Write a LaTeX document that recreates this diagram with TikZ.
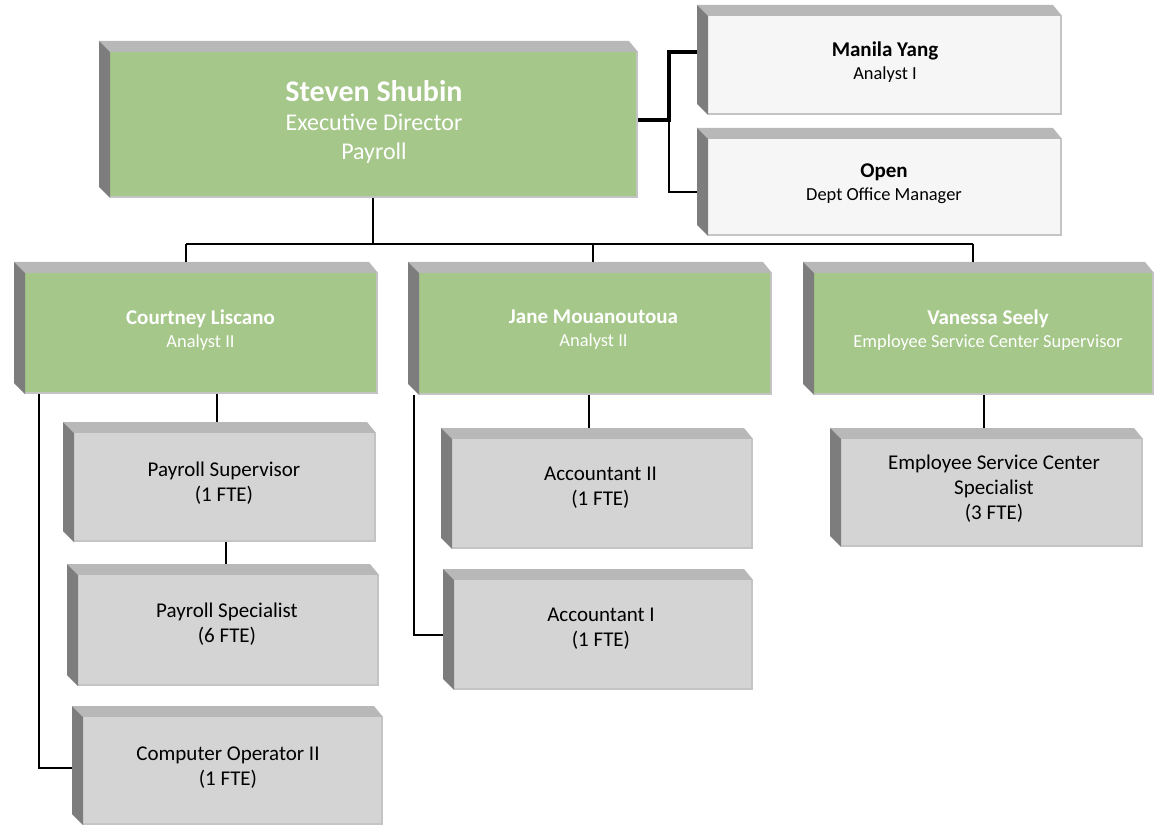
\documentclass[tikz,border=0pt]{standalone}
\usepackage{fontspec}
\setmainfont{Carlito}
\usetikzlibrary{fit}
\definecolor{greenface}{RGB}{165,199,137}
\definecolor{grayface}{RGB}{212,212,212}
\definecolor{whiteface}{RGB}{246,246,246}
\definecolor{topbev}{RGB}{184,184,184}
\definecolor{leftbev}{RGB}{125,125,125}
\definecolor{edgebev}{RGB}{196,196,196}
\newcommand\orgbox[6]{%
  \fill[topbev] (#2,#3) -- (#4-9,#3) -- (#4,#3+11) -- (#2+11,#3+11) -- cycle;
  \fill[#6] (#2+11,#3+11) rectangle (#4,#5);
  \draw[edgebev,line width=2pt] (#2+11,#5-1) -- (#4-1,#5-1) -- (#4-1,#3+11);
  \fill[leftbev] (#2,#3) -- (#2+11,#3+11) -- (#2+11,#5) -- (#2,#5-11) -- cycle;
  \node[fit={(#2,#3) (#4,#5)}, inner sep=0pt] (#1) {};
}
\tikzset{
  txt/.style={align=center, inner sep=0pt},
  wtxt/.style={txt, text=white},
  subfont/.style={font=\fontsize{18.4}{23}\selectfont},
  bigsub/.style={font=\fontsize{24}{29}\selectfont},
  lowfont/.style={font=\fontsize{21}{25}\selectfont},
  conn/.style={line width=2pt, black},
  connthick/.style={line width=3.2pt, black},
}
\newcommand\ttl[1]{{\fontsize{21}{23}\selectfont\bfseries #1}}
\begin{document}
\begin{tikzpicture}[x=1pt,y=-1pt]
\useasboundingbox (0,0) rectangle (1156,826);
\fill[white] (0,0) rectangle (1156,826);
% boxes
\orgbox{steven}{99}{41}{638}{198}{greenface}
\orgbox{manila}{697}{5}{1062}{115}{whiteface}
\orgbox{open}{697}{128}{1062}{236}{whiteface}
\orgbox{courtney}{14}{262}{378}{394}{greenface}
\orgbox{jane}{408}{262}{772}{395}{greenface}
\orgbox{vanessa}{803}{262}{1154}{395}{greenface}
\orgbox{psup}{63}{422}{376}{542}{grayface}
\orgbox{pspec}{67}{564}{379}{686}{grayface}
\orgbox{compop}{72}{706}{383}{825}{grayface}
\orgbox{acc2}{441}{428}{753}{549}{grayface}
\orgbox{acc1}{443}{569}{753}{690}{grayface}
\orgbox{esc}{830}{428}{1143}{547}{grayface}
% texts
\node[wtxt,bigsub] (stevenT) at (374,121.5) {{\fontsize{30}{29}\selectfont\bfseries Steven Shubin}\\Executive Director\\Payroll};
\node[txt,subfont] (manilaT) at (885,62) {\ttl{Manila Yang}\\Analyst I};
\node[txt,subfont] (openT) at (884,184) {\ttl{Open}\\Dept Office Manager};
\node[wtxt,subfont] (courtneyT) at (200.5,330) {\ttl{Courtney Liscano}\\Analyst II};
\node[wtxt,subfont] (janeT) at (593.5,330) {\ttl{Jane Mouanoutoua}\\Analyst II};
\node[wtxt,subfont] (vanessaT) at (988,330) {\ttl{Vanessa Seely}\\Employee Service Center Supervisor};
\node[txt,lowfont] (psupT) at (224,483) {Payroll Supervisor\\(1 FTE)};
\node[txt,lowfont] (pspecT) at (227,624.5) {Payroll Specialist\\(6 FTE)};
\node[txt,lowfont] (compopT) at (228,767.5) {Computer Operator II\\(1 FTE)};
\node[txt,lowfont] (acc2T) at (600.5,488) {Accountant II\\(1 FTE)};
\node[txt,lowfont] (acc1T) at (601,629) {Accountant I\\(1 FTE)};
\node[txt,lowfont] (escT) at (994,489) {Employee Service Center\\Specialist\\(3 FTE)};
% connectors: right side
\coordinate (jR) at (669,120);
\coordinate (jM) at (669,52);
\coordinate (jO) at (669,192);
\draw[connthick] (steven.east |- jR) -- (jR) -- (jM) -- (manila.west |- jM);
\draw[conn] (jR) -- (jO) -- (open.west |- jO);
% bus
\coordinate (jS) at (373,244);
\coordinate (bC) at (186,244);
\coordinate (bJ) at (593,244);
\coordinate (bV) at (973,244);
\draw[conn] (steven.south -| jS) -- (jS);
\draw[conn] (bC) -- (bV);
\draw[conn] (bC) -- (bC |- courtney.north);
\draw[conn] (bJ) -- (bJ |- jane.north);
\draw[conn] (bV) -- (bV |- vanessa.north);
% Courtney column
\coordinate (xCS) at (217,400);
\coordinate (xSS) at (226,550);
\coordinate (xCL) at (39,768);
\draw[conn] (courtney.south -| xCS) -- (psup.north -| xCS);
\draw[conn] (psup.south -| xSS) -- (pspec.north -| xSS);
\draw[conn] (courtney.south -| xCL) -- (xCL) -- (compop.west |- xCL);
% Jane column
\coordinate (xJA) at (589,400);
\coordinate (xJL) at (414,635);
\draw[conn] (jane.south -| xJA) -- (acc2.north -| xJA);
\draw[conn] (jane.south -| xJL) -- (xJL) -- (acc1.west |- xJL);
% Vanessa column
\coordinate (xVE) at (984,400);
\draw[conn] (vanessa.south -| xVE) -- (esc.north -| xVE);
\end{tikzpicture}
\end{document}
